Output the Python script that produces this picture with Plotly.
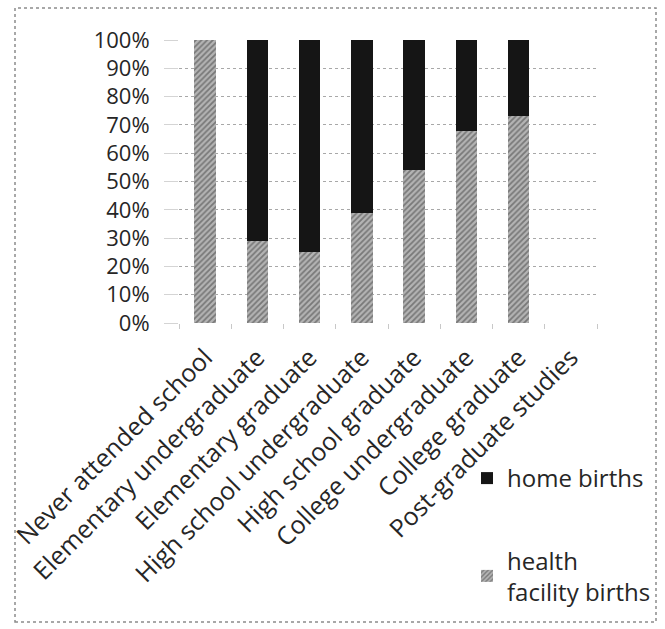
import plotly.graph_objects as go

# Births by mother's education level (share of births, stacked to 100%)
categories = [
    "Never attended school",
    "Elementary undergraduate",
    "Elementary graduate",
    "High school undergraduate",
    "High school graduate",
    "College undergraduate",
    "College graduate",
    "Post-graduate studies",
]
health_facility_births = [1.00, 0.29, 0.25, 0.39, 0.54, 0.68, 0.73, None]
home_births = [0.00, 0.71, 0.75, 0.61, 0.46, 0.32, 0.27, None]

W, H = 665, 629
ML, MR, MT, MB = 179, 68, 40, 306
PW, PH = W - ML - MR, H - MT - MB


def px_x(px):
    return (px - ML) / PW


def px_y(py):
    return (MT + PH - py) / PH


FONT = "Open Sans"
TEXT = "#262626"

fig = go.Figure()
fig.add_trace(go.Bar(
    x=categories, y=health_facility_births,
    name="health<br>facility births",
    legendgroup="b", legendrank=2,
    marker=dict(
        color="#8f8f8f",
        line=dict(width=0),
        pattern=dict(shape="/", fgcolor="#3c3c3c", bgcolor="#b4b4b4",
                     size=4, solidity=0.45),
    ),
))
fig.add_trace(go.Bar(
    x=categories, y=home_births,
    name="home births",
    legendgroup="a", legendrank=1,
    marker=dict(color="#151515", line=dict(width=0)),
))

fig.update_layout(
    width=W, height=H,
    margin=dict(l=ML, r=MR, t=MT, b=MB, autoexpand=False),
    barmode="stack",
    bargap=0.59,
    paper_bgcolor="white",
    plot_bgcolor="white",
    font=dict(family=FONT, color=TEXT, size=21),
    showlegend=True,
    legend=dict(
        x=px_x(467), y=px_y(456), xanchor="left", yanchor="top",
        traceorder="grouped", tracegroupgap=48,
        font=dict(family=FONT, size=24, color=TEXT),
        bgcolor="rgba(0,0,0,0)",
        itemclick=False,
    ),
    shapes=[dict(
        type="rect", xref="paper", yref="paper",
        x0=px_x(15), x1=px_x(656), y0=px_y(622), y1=px_y(8),
        line=dict(color="#8c8c8c", width=1.5, dash="dot"),
        fillcolor="rgba(0,0,0,0)", layer="below",
    )],
)

fig.update_xaxes(
    type="category",
    tickangle=-45,
    tickfont=dict(family=FONT, size=25, color=TEXT),
    showgrid=False,
    showline=False,
    zeroline=False,
    tickson="boundaries",
    ticks="outside", ticklen=5, tickcolor="#c8c8c8", tickwidth=1,
    ticklabelstandoff=14,
)
fig.update_yaxes(
    range=[0, 1],
    dtick=0.1,
    tickformat=".0%",
    tickfont=dict(family=FONT, size=22, color=TEXT),
    showgrid=True, gridcolor="#a8a8a8", griddash="dot", gridwidth=1,
    zeroline=False,
    showline=False,
    ticks="outside", ticklen=14, tickcolor="#d4d4d4", tickwidth=1,
    ticklabelstandoff=10,
)

fig.write_html("out.html")
